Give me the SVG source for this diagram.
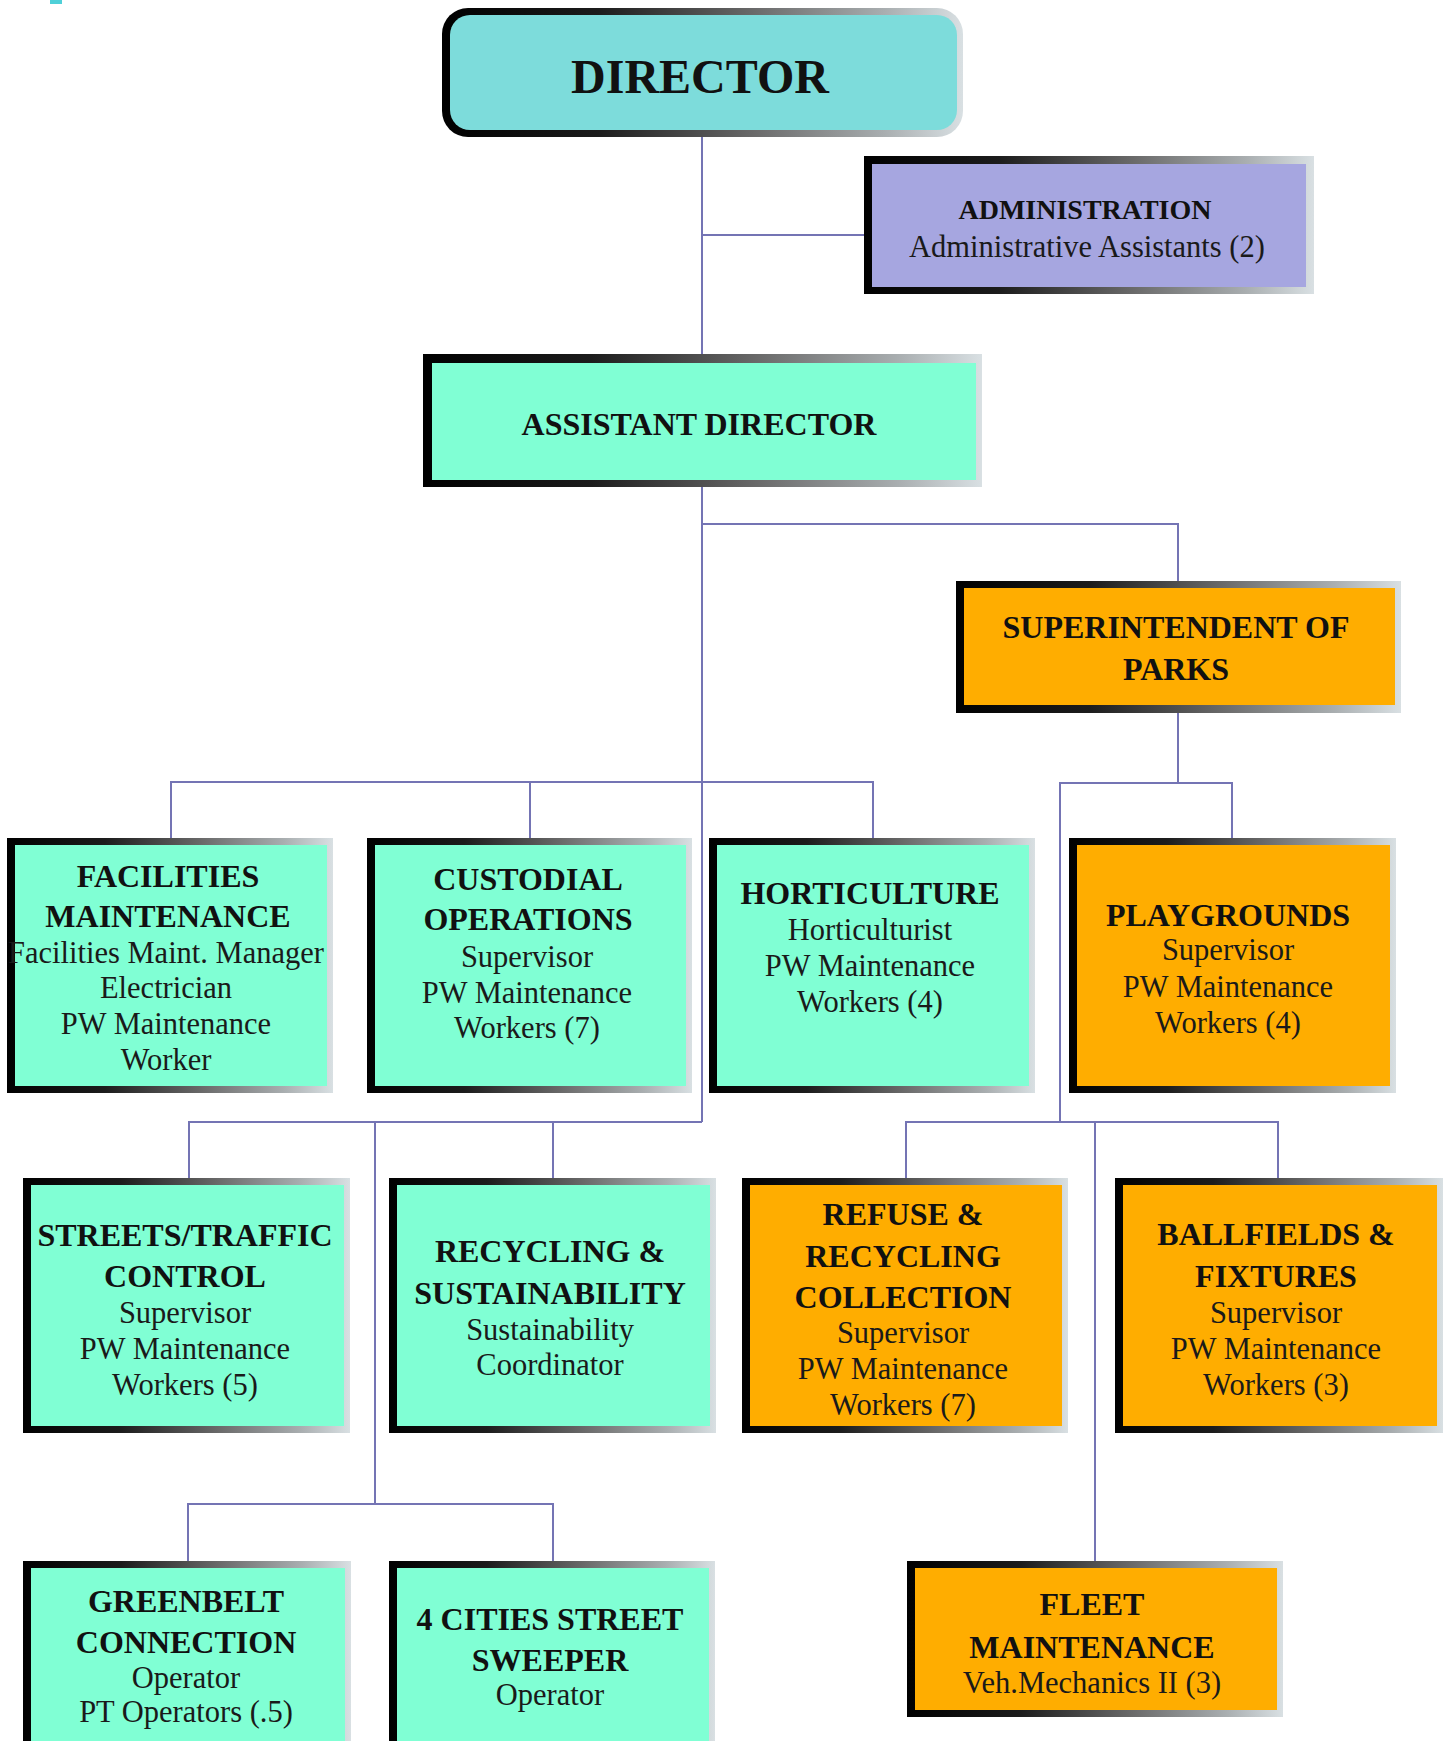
<svg xmlns="http://www.w3.org/2000/svg" width="1445" height="1741" viewBox="0 0 1445 1741">
<style>
.t{font-family:"Liberation Serif","Times New Roman",serif;font-weight:bold;font-size:32px;fill:#111;text-anchor:middle}
.b{font-family:"Liberation Serif","Times New Roman",serif;font-size:30.5px;fill:#1a1a1a;text-anchor:middle}
.d{font-family:"Liberation Serif","Times New Roman",serif;font-weight:bold;font-size:48px;fill:#111;text-anchor:middle}
.fr{fill:url(#fr)}
.aq{fill:#80FFD4}
.or{fill:#FFAD00}
.lv{fill:#A6A6E0}
.tq{fill:#7DDCDB}
.ln{fill:none;stroke:#7474B4;stroke-width:2}
</style>
<defs>
<linearGradient id="fr" x1="0" y1="0" x2="1" y2="0">
<stop offset="0" stop-color="#000"/>
<stop offset="0.3" stop-color="#1c1c1c"/>
<stop offset="0.6" stop-color="#6a6a6a"/>
<stop offset="0.85" stop-color="#a9aeb0"/>
<stop offset="1" stop-color="#d9e0e3"/>
</linearGradient>
</defs>
<rect width="1445" height="1741" fill="#fff"/>
<rect x="50" y="0" width="12" height="4" fill="#4FD0D8"/>

<g id="connectors">
<path class="ln" d="M702,137 V354"/>
<path class="ln" d="M702,235 H864"/>
<path class="ln" d="M702,487 V1122"/>
<path class="ln" d="M702,524 H1178 V581"/>
<path class="ln" d="M171,838 V782 H873 V838"/>
<path class="ln" d="M530,782 V838"/>
<path class="ln" d="M1178,713 V783"/>
<path class="ln" d="M1060,1122 V783 H1232 V838"/>
<path class="ln" d="M189,1178 V1122 H702"/>
<path class="ln" d="M553,1122 V1178"/>
<path class="ln" d="M375,1122 V1504"/>
<path class="ln" d="M188,1561 V1504 H553 V1561"/>
<path class="ln" d="M906,1178 V1122 H1278 V1178"/>
<path class="ln" d="M1095,1122 V1561"/>
</g>

<g id="director">
<rect class="fr" x="442" y="8" width="521" height="129" rx="26"/>
<rect class="tq" x="450" y="15" width="507" height="115" rx="20"/>
<text class="d" x="700" y="93">DIRECTOR</text>
</g>

<g id="administration">
<rect class="fr" x="864" y="156" width="450" height="138"/>
<rect class="lv" x="872" y="164" width="434" height="123"/>
<text class="t" x="1085" y="219" style="font-size:28px">ADMINISTRATION</text>
<text class="b" x="1087" y="257">Administrative Assistants (2)</text>
</g>

<g id="assistant-director">
<rect class="fr" x="423" y="354" width="559" height="133"/>
<rect class="aq" x="432" y="363" width="544" height="117"/>
<text class="t" x="699" y="435">ASSISTANT DIRECTOR</text>
</g>

<g id="superintendent">
<rect class="fr" x="956" y="581" width="445" height="132"/>
<rect class="or" x="964" y="588" width="431" height="117"/>
<text class="t" x="1176" y="638">SUPERINTENDENT OF</text>
<text class="t" x="1176" y="680">PARKS</text>
</g>

<g id="facilities">
<rect class="fr" x="7" y="838" width="326" height="255"/>
<rect class="aq" x="15" y="845" width="312" height="241"/>
<text class="t" x="168" y="887">FACILITIES</text>
<text class="t" x="168" y="927">MAINTENANCE</text>
<text class="b" x="166" y="963">Facilities Maint. Manager</text>
<text class="b" x="166" y="998">Electrician</text>
<text class="b" x="166" y="1034">PW Maintenance</text>
<text class="b" x="166" y="1070">Worker</text>
</g>

<g id="custodial">
<rect class="fr" x="367" y="838" width="325" height="255"/>
<rect class="aq" x="375" y="845" width="311" height="241"/>
<text class="t" x="528" y="890">CUSTODIAL</text>
<text class="t" x="528" y="930">OPERATIONS</text>
<text class="b" x="527" y="967">Supervisor</text>
<text class="b" x="527" y="1003">PW Maintenance</text>
<text class="b" x="527" y="1038">Workers (7)</text>
</g>

<g id="horticulture">
<rect class="fr" x="709" y="838" width="326" height="255"/>
<rect class="aq" x="717" y="845" width="312" height="241"/>
<text class="t" x="870" y="904">HORTICULTURE</text>
<text class="b" x="870" y="940">Horticulturist</text>
<text class="b" x="870" y="976">PW Maintenance</text>
<text class="b" x="870" y="1012">Workers (4)</text>
</g>

<g id="playgrounds">
<rect class="fr" x="1069" y="838" width="327" height="255"/>
<rect class="or" x="1077" y="845" width="313" height="241"/>
<text class="t" x="1228" y="926">PLAYGROUNDS</text>
<text class="b" x="1228" y="960">Supervisor</text>
<text class="b" x="1228" y="997">PW Maintenance</text>
<text class="b" x="1228" y="1033">Workers (4)</text>
</g>

<g id="streets">
<rect class="fr" x="23" y="1178" width="327" height="255"/>
<rect class="aq" x="31" y="1185" width="313" height="241"/>
<text class="t" x="185" y="1246">STREETS/TRAFFIC</text>
<text class="t" x="185" y="1287">CONTROL</text>
<text class="b" x="185" y="1323">Supervisor</text>
<text class="b" x="185" y="1359">PW Maintenance</text>
<text class="b" x="185" y="1395">Workers (5)</text>
</g>

<g id="recycling">
<rect class="fr" x="389" y="1178" width="327" height="255"/>
<rect class="aq" x="397" y="1185" width="313" height="241"/>
<text class="t" x="550" y="1262">RECYCLING &amp;</text>
<text class="t" x="550" y="1304">SUSTAINABILITY</text>
<text class="b" x="550" y="1340">Sustainability</text>
<text class="b" x="550" y="1375">Coordinator</text>
</g>

<g id="refuse">
<rect class="fr" x="742" y="1178" width="326" height="255"/>
<rect class="or" x="750" y="1185" width="312" height="241"/>
<text class="t" x="903" y="1225">REFUSE &amp;</text>
<text class="t" x="903" y="1267">RECYCLING</text>
<text class="t" x="903" y="1308">COLLECTION</text>
<text class="b" x="903" y="1343">Supervisor</text>
<text class="b" x="903" y="1379">PW Maintenance</text>
<text class="b" x="903" y="1415">Workers (7)</text>
</g>

<g id="ballfields">
<rect class="fr" x="1115" y="1178" width="328" height="255"/>
<rect class="or" x="1123" y="1185" width="314" height="241"/>
<text class="t" x="1276" y="1245">BALLFIELDS &amp;</text>
<text class="t" x="1276" y="1287">FIXTURES</text>
<text class="b" x="1276" y="1323">Supervisor</text>
<text class="b" x="1276" y="1359">PW Maintenance</text>
<text class="b" x="1276" y="1395">Workers (3)</text>
</g>

<g id="greenbelt">
<rect class="fr" x="23" y="1561" width="328" height="200"/>
<rect class="aq" x="31" y="1568" width="314" height="190"/>
<text class="t" x="186" y="1612">GREENBELT</text>
<text class="t" x="186" y="1653">CONNECTION</text>
<text class="b" x="186" y="1688">Operator</text>
<text class="b" x="186" y="1722">PT Operators (.5)</text>
</g>

<g id="sweeper">
<rect class="fr" x="389" y="1561" width="326" height="200"/>
<rect class="aq" x="397" y="1568" width="312" height="190"/>
<text class="t" x="550" y="1630">4 CITIES STREET</text>
<text class="t" x="550" y="1671">SWEEPER</text>
<text class="b" x="550" y="1705">Operator</text>
</g>

<g id="fleet">
<rect class="fr" x="907" y="1561" width="376" height="156"/>
<rect class="or" x="915" y="1568" width="362" height="142"/>
<text class="t" x="1092" y="1615">FLEET</text>
<text class="t" x="1092" y="1658">MAINTENANCE</text>
<text class="b" x="1092" y="1693">Veh.Mechanics II (3)</text>
</g>
</svg>
